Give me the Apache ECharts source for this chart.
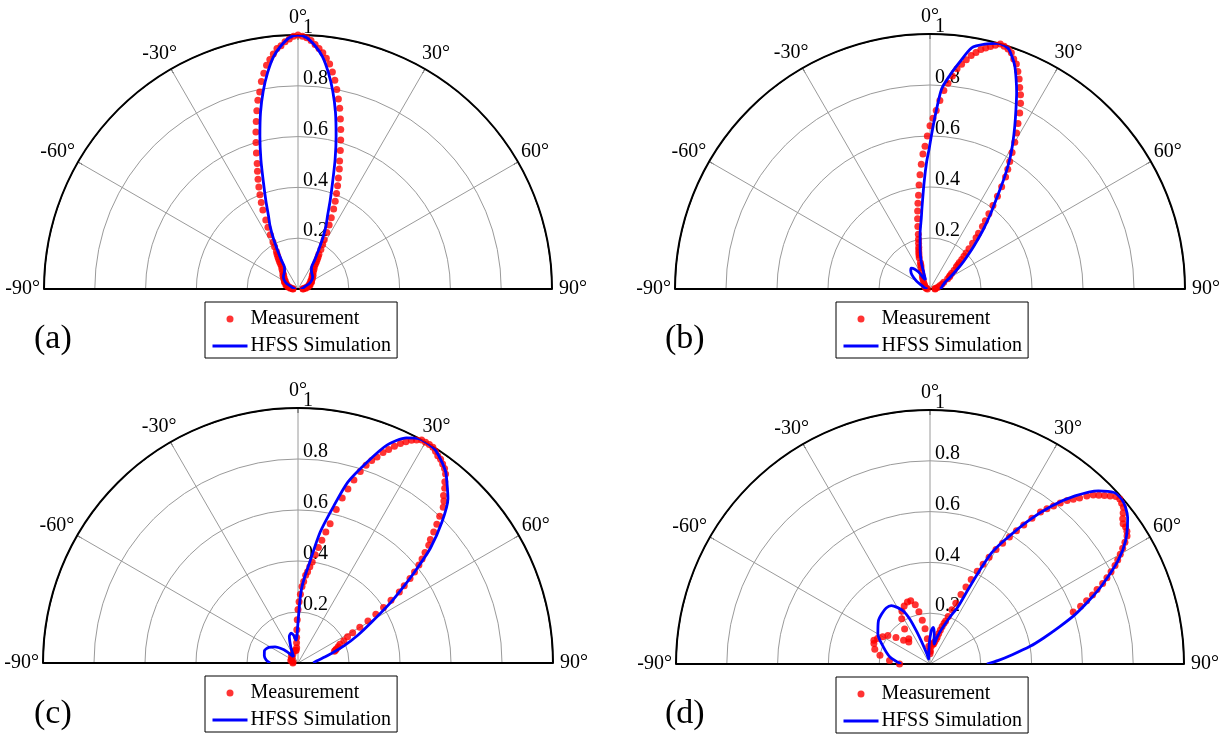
<!DOCTYPE html>
<html>
<head>
<meta charset="utf-8">
<script src="https://cdn.jsdelivr.net/npm/echarts@6/dist/echarts.min.js"></script>
<style>
  html, body { margin: 0; padding: 0; background: #fff; }
  #chart { width: 1228px; height: 734px; }
</style>
</head>
<body>
<div id="chart"></div>
<script>
// Angle range and ticks of every half-polar panel (degrees)
const angleMin = -90;
const angleMax = 90;
const angleStep = 30;
// Normalized amplitude rings
const radiusMax = 1;
const radiusStep = 0.2;

const panelTags = ['(a)', '(b)', '(c)', '(d)'];
const seriesNames = ['Measurement', 'HFSS Simulation'];

// Each pair is [angle in degrees, normalized amplitude]
const measA = [
  [-90,0.02],[-87,0.02],[-84,0.03],[-81,0.03],[-78,0.04],[-75,0.04],[-72,0.05],[-69,0.05],[-66,0.05],[-63,0.06],
  [-60,0.06],[-57,0.06],[-54,0.07],[-51,0.07],[-48,0.08],[-45,0.08],[-42,0.09],[-39,0.1],
  [-36,0.11],[-35,0.12],[-34,0.13],[-33,0.14],[-32,0.15],[-31,0.16],[-30,0.17],[-29,0.19],[-28,0.21],[-27,0.24],
  [-26,0.27],[-25,0.3],[-24,0.34],[-23,0.37],[-22,0.4],[-21,0.43],[-20,0.46],[-19,0.49],[-18,0.52],[-17,0.56],
  [-16,0.6],[-15,0.64],[-14,0.68],[-13,0.72],[-12,0.76],[-11,0.79],[-10,0.83],[-9,0.86],[-8,0.89],[-7,0.91],
  [-6,0.93],[-5,0.95],[-4,0.96],[-3,0.975],[-2,0.985],[-1,0.995],[0,1.0],[1,0.995],[2,0.99],[3,0.98],
  [4,0.965],[5,0.95],[6,0.935],[7,0.915],[8,0.895],[9,0.865],[10,0.835],[11,0.8],[12,0.765],[13,0.73],
  [14,0.69],[15,0.65],[16,0.61],[17,0.57],[18,0.53],[19,0.5],[20,0.465],[21,0.435],[22,0.405],[23,0.375],
  [24,0.345],[25,0.31],[26,0.28],[27,0.25],[28,0.22],[29,0.2],[30,0.18],[31,0.16],[32,0.15],[33,0.14],
  [34,0.13],[35,0.12],[36,0.11],[39,0.1],[42,0.09],[45,0.08],[48,0.08],[51,0.07],[54,0.07],[57,0.06],
  [60,0.06],[63,0.06],[66,0.05],[69,0.05],[72,0.05],[75,0.04],[78,0.04],[81,0.03],[84,0.03],[87,0.02],[90,0.02]
];
const simA = [
  [-90,0.01],[-80,0.02],[-70,0.03],[-64,0.05],[-57,0.065],[-50,0.075],[-44,0.08],[-39,0.085],[-36,0.09],[-34,0.095],
  [-32,0.1],[-30,0.13],[-28,0.17],[-26,0.22],[-24,0.27],[-22,0.31],[-20,0.37],[-18,0.44],[-16,0.53],[-14,0.62],
  [-12,0.71],[-10,0.79],[-8,0.86],[-6,0.92],[-4,0.96],[-2,0.99],[0,1.0],[2,0.99],[4,0.96],[6,0.92],
  [8,0.86],[10,0.79],[12,0.71],[14,0.62],[16,0.53],[18,0.44],[20,0.37],[22,0.31],[24,0.27],[26,0.22],
  [28,0.17],[30,0.13],[32,0.1],[34,0.095],[36,0.09],[39,0.085],[44,0.08],[50,0.075],[57,0.065],[64,0.05],
  [70,0.03],[80,0.02],[90,0.01]
];

const measB = [
  [-90,0.01],[-80,0.015],[-70,0.02],[-60,0.025],[-50,0.03],[-40,0.04],[-35,0.05],[-30,0.06],[-26,0.075],[-23,0.09],
  [-21,0.1],[-20,0.11],[-19,0.13],[-18,0.14],[-17,0.15],[-16,0.16],[-15,0.17],[-14,0.185],[-13,0.2],[-12,0.22],
  [-11,0.25],[-10,0.28],[-9,0.31],[-8,0.34],[-7,0.37],[-6,0.41],[-5,0.45],[-4,0.49],[-3,0.53],[-2,0.56],
  [-1,0.6],[0,0.64],[1,0.67],[2,0.7],[3,0.74],[4,0.78],[5,0.81],[6,0.84],[7,0.87],[8,0.89],
  [9,0.91],[10,0.93],[11,0.945],[12,0.96],[13,0.97],[14,0.98],[15,0.99],[16,1.0],[17,0.995],[18,0.99],
  [19,0.98],[20,0.96],[21,0.945],[22,0.92],[23,0.895],[24,0.865],[25,0.84],[26,0.81],[27,0.775],[28,0.735],
  [29,0.7],[30,0.665],[31,0.625],[32,0.59],[33,0.56],[34,0.53],[35,0.49],[36,0.45],[37,0.41],[38,0.375],
  [39,0.345],[40,0.32],[41,0.29],[42,0.27],[43,0.245],[44,0.22],[45,0.2],[46,0.185],[47,0.17],[48,0.155],
  [49,0.145],[50,0.135],[52,0.12],[54,0.105],[56,0.095],[58,0.09],[60,0.08],[64,0.06],[68,0.05],[72,0.04],
  [78,0.03],[84,0.02],[90,0.02]
];
const simB = [
  [-90,0.01],[-80,0.02],[-70,0.03],[-60,0.06],[-52,0.09],[-46,0.105],[-42,0.11],[-38,0.1],[-34,0.08],[-30,0.05],
  [-26,0.04],[-22,0.06],[-18,0.11],[-14,0.16],[-10,0.223],[-7,0.28],[-5.5,0.325],[-3.2,0.417],[-1.5,0.5],[-0.4,0.547],
  [0.7,0.613],[1.9,0.692],[3.3,0.785],[5.2,0.839],[7.4,0.896],[9.8,0.96],[12.6,0.984],[15.6,1.0],[17,0.998],[18.2,0.99],
  [19.5,0.965],[20.8,0.936],[22.3,0.89],[23.8,0.842],[25.6,0.78],[27.5,0.72],[29.5,0.66],[31.5,0.6],[33.6,0.53],[36,0.45],
  [38.8,0.38],[42,0.31],[45.7,0.24],[49,0.19],[52,0.155],[56.6,0.112],[61,0.085],[66,0.065],[72,0.055],[79,0.048],
  [85,0.044],[90,0.04]
];

const measC = [
  [-90,0.02],[-80,0.02],[-70,0.03],[-60,0.03],[-50,0.03],[-40,0.04],[-30,0.04],[-20,0.05],[-12,0.05],[-8,0.05],
  [-5,0.06],[-4,0.08],[-3,0.1],[-2,0.13],[-1,0.17],[0,0.21],[1,0.24],[2,0.27],[3,0.3],[4,0.32],
  [5,0.345],[6,0.36],[7,0.38],[8,0.4],[9,0.43],[10,0.46],[11,0.49],[12,0.525],[13,0.56],[14,0.62],
  [15,0.67],[16,0.71],[17,0.75],[18,0.79],[19,0.82],[20,0.845],[21,0.865],[22,0.89],[23,0.91],[24,0.93],
  [25,0.95],[26,0.965],[27,0.98],[28,0.99],[29,1.0],[30,1.0],[31,1.0],[32,0.998],[33,0.99],[34,0.98],
  [35,0.975],[36,0.965],[37,0.955],[38,0.94],[39,0.915],[40,0.895],[41,0.87],[42,0.855],[43,0.835],[44,0.8],
  [45,0.77],[46,0.74],[47,0.71],[48,0.69],[49,0.66],[50,0.635],[51,0.61],[52,0.58],[53,0.55],[54,0.515],
  [55,0.485],[56,0.44],[57,0.4],[58,0.36],[59,0.32],[60,0.28],[61,0.245],[62,0.22],[64,0.2],[66,0.18],
  [68,0.17],[70,0.16],[71,0.155],[72,0.15]
];
const simC = [
  [-90,0.11],[-85,0.125],[-78,0.135],[-70,0.14],[-62,0.13],[-55,0.11],[-48,0.08],[-42,0.05],[-36,0.03],[-30,0.04],
  [-24,0.07],[-18,0.11],[-13,0.12],[-9,0.11],[-5,0.09],[-3,0.1],[-1,0.13],[0,0.16],[1,0.2],[2,0.26],
  [3,0.3],[4.5,0.34],[6.2,0.384],[9.6,0.52],[12.9,0.634],[15.4,0.736],[19,0.834],[22.2,0.923],[25.7,0.98],[28.4,1.0],
  [32.4,0.996],[35,0.975],[37.7,0.947],[40,0.91],[42.4,0.872],[45.6,0.79],[49.1,0.686],[52,0.58],[54.5,0.5],[56.8,0.436],
  [61.1,0.328],[65,0.26],[69.6,0.192],[76,0.12],[83.8,0.073],[90,0.06]
];

const measD = [
  [-90,0.12],[-85,0.16],[-80,0.2],[-75,0.225],[-70,0.235],[-67,0.24],[-64,0.23],[-60,0.215],[-56,0.2],[-52,0.17],
  [-48,0.14],[-44,0.12],[-40,0.13],[-36,0.17],[-32,0.21],[-28,0.235],[-24,0.25],[-20,0.26],[-17,0.26],[-14,0.24],
  [-12,0.21],[-10,0.175],[-8,0.14],[-6,0.1],[-4,0.07],[-2,0.05],[0,0.04],[2,0.05],[4,0.07],[6,0.08],
  [8,0.08],[10,0.08],[12,0.09],[14,0.1],[15,0.11],[16,0.125],[17,0.14],[18,0.155],[19,0.17],[20,0.18],
  [21,0.2],[22,0.23],[23,0.26],[24,0.3],[25,0.335],[26,0.37],[27,0.41],[28,0.445],[29,0.48],[30,0.52],
  [31,0.555],[32,0.59],[33,0.625],[34,0.66],[35,0.7],[36,0.74],[37,0.765],[38,0.79],[39,0.815],[40,0.84],
  [41,0.86],[42,0.88],[43,0.905],[44,0.925],[45,0.94],[46,0.955],[47,0.97],[48,0.985],[49,0.99],[50,0.985],
  [51,0.98],[52,0.965],[53,0.95],[54,0.94],[55,0.94],[56,0.935],[57,0.925],[58,0.905],[59,0.885],[60,0.865],
  [61,0.845],[62,0.825],[63,0.8],[64,0.775],[65,0.75],[66,0.72],[67,0.695],[68,0.665],[69,0.635],[70,0.6]
];
const simD = [
  [-90,0.114],[-80,0.16],[-70,0.195],[-60,0.237],[-50,0.265],[-44,0.274],[-38,0.28],[-33.5,0.276],[-27,0.236],[-24,0.19],
  [-22,0.13],[-20,0.08],[-17,0.04],[-14,0.02],[-8,0.02],[-3,0.07],[2,0.13],[5,0.145],[8,0.12],[10,0.09],
  [12,0.08],[14,0.1],[17,0.13],[20,0.16],[23,0.2],[26,0.25],[27,0.32],[28,0.42],[29,0.5],[31,0.567],
  [34.4,0.682],[37.6,0.785],[40.8,0.874],[44.2,0.951],[47,0.99],[49.4,0.995],[51.5,0.985],[53.5,0.968],[57.8,0.91],[61.3,0.843],
  [65.3,0.747],[68,0.68],[71.2,0.603],[74,0.53],[77.1,0.459],[80,0.4],[83.6,0.326],[87,0.27],[90,0.224]
];

const measured = [measA, measB, measC, measD];
const simulated = [simA, simB, simC, simD];

// Panel placement on the page
const layout = [
  { cx: 298, cy: 289, r: 254, legendLeft: 205, legendTop: 302, tagLeft: 29, tagTop: 317 },
  { cx: 930, cy: 289, r: 255, legendLeft: 836, legendTop: 302, tagLeft: 660, tagTop: 317 },
  { cx: 298, cy: 663, r: 255, legendLeft: 205, legendTop: 676, tagLeft: 29, tagTop: 692 },
  { cx: 930, cy: 664, r: 254, legendLeft: 836, legendTop: 677, tagLeft: 660, tagTop: 692 }
];

const FONT = 'Liberation Serif';
const GRID = '#9a9a9a';
const RED = '#ff0000';
const BLUE = '#0000ff';

// spacing of the degree labels around the outer arc
const degLabelText = { fontFamily: FONT, fontSize: 20, color: '#000' };
const degLabelRich = {
  d0:  Object.assign({ padding: [0, 0, 7, 0] }, degLabelText),
  d30: Object.assign({ padding: [0, -6, 5, -3] }, degLabelText),
  d60: Object.assign({ padding: [0, 3, 0, 3] }, degLabelText),
  d90: Object.assign({ padding: [0, 4, 0, 7] }, degLabelText)
};

const polar = [], angleAxis = [], radiusAxis = [], series = [], legend = [], title = [];

layout.forEach((p, i) => {
  const base = polar.length;
  // main half-disc, the two extra ones only carry the right baseline and the ring labels
  for (let k = 0; k < 3; k++) polar.push({ center: [p.cx, p.cy], radius: p.r });

  angleAxis.push({
    polarIndex: base, type: 'value', min: angleMin, max: angleMax, interval: angleStep,
    startAngle: 180, endAngle: 0, clockwise: true,
    axisLine: { show: true, lineStyle: { color: '#000', width: 2 } },
    axisTick: { show: true, inside: true, length: 5, lineStyle: { color: '#000', width: 1 } },
    axisLabel: {
      show: true, margin: 0, color: '#000', fontFamily: FONT, fontSize: 20,
      rich: degLabelRich,
      formatter: v => '{d' + Math.abs(v) + '|' + v + '°}'
    },
    splitLine: { show: true, lineStyle: { color: GRID, width: 1 } }
  });
  radiusAxis.push({
    polarIndex: base, type: 'value', min: 0, max: radiusMax, interval: radiusStep,
    axisLine: { show: true, lineStyle: { color: '#000', width: 2 } },
    axisTick: { show: false }, axisLabel: { show: false },
    splitLine: { show: true, lineStyle: { color: [GRID, GRID, GRID, GRID, GRID, '#000'], width: 1 } }
  });

  // right half of the baseline
  angleAxis.push({ polarIndex: base + 1, type: 'value', min: angleMin, max: angleMax, startAngle: 0, endAngle: 180, clockwise: false, show: false });
  radiusAxis.push({
    polarIndex: base + 1, type: 'value', min: 0, max: radiusMax, interval: radiusStep,
    axisLine: { show: true, lineStyle: { color: '#000', width: 2 } },
    axisTick: { show: false }, axisLabel: { show: false }, splitLine: { show: false }
  });

  // ring values written along the 0° spoke
  angleAxis.push({ polarIndex: base + 2, type: 'value', min: angleMin, max: angleMax, startAngle: 90, endAngle: -90, clockwise: true, show: false });
  radiusAxis.push({
    polarIndex: base + 2, type: 'value', min: 0, max: radiusMax, interval: radiusStep,
    axisLine: { show: false }, axisTick: { show: false }, splitLine: { show: false },
    axisLabel: {
      show: true, inside: true, margin: -5, showMinLabel: false, align: 'left', verticalAlign: 'bottom',
      lineHeight: 14, color: '#000', fontFamily: FONT, fontSize: 20,
      formatter: v => (v === 0 ? '' : String(+v.toFixed(1)))
    }
  });

  series.push({
    name: seriesNames[0], type: 'scatter', coordinateSystem: 'polar', polarIndex: base,
    symbol: 'circle', symbolSize: 7, itemStyle: { color: RED }, z: 3,
    data: measured[i].map(d => [d[1], d[0]])
  });
  series.push({
    name: seriesNames[1], type: 'line', coordinateSystem: 'polar', polarIndex: base,
    showSymbol: false, symbol: 'circle', smooth: 0.25,
    lineStyle: { color: BLUE, width: 2.8 }, itemStyle: { color: BLUE }, z: 4,
    data: simulated[i].map(d => [d[1], d[0]])
  });

  legend.push({
    left: p.legendLeft, top: p.legendTop, height: 70, orient: 'vertical',
    backgroundColor: '#fff', borderColor: '#000', borderWidth: 1, borderRadius: 0,
    padding: [7, 6, 2, 6], itemGap: 7, itemWidth: 35, itemHeight: 7,
    textStyle: { fontFamily: FONT, fontSize: 20, color: '#000', padding: [0, 0, 0, -2] },
    selectedMode: false,
    data: [
      { name: seriesNames[0] },
      { name: seriesNames[1], itemStyle: { opacity: 0 }, lineStyle: { width: 3 } }
    ]
  });

  title.push({
    text: panelTags[i], left: p.tagLeft, top: p.tagTop,
    textStyle: { fontFamily: FONT, fontSize: 34, fontWeight: 'normal', color: '#000' }
  });
});

const chart = echarts.init(document.getElementById('chart'), null, { renderer: 'canvas' });
chart.setOption({
  backgroundColor: '#fff',
  animation: false,
  title, polar, angleAxis, radiusAxis, legend, series
});
</script>
</body>
</html>
